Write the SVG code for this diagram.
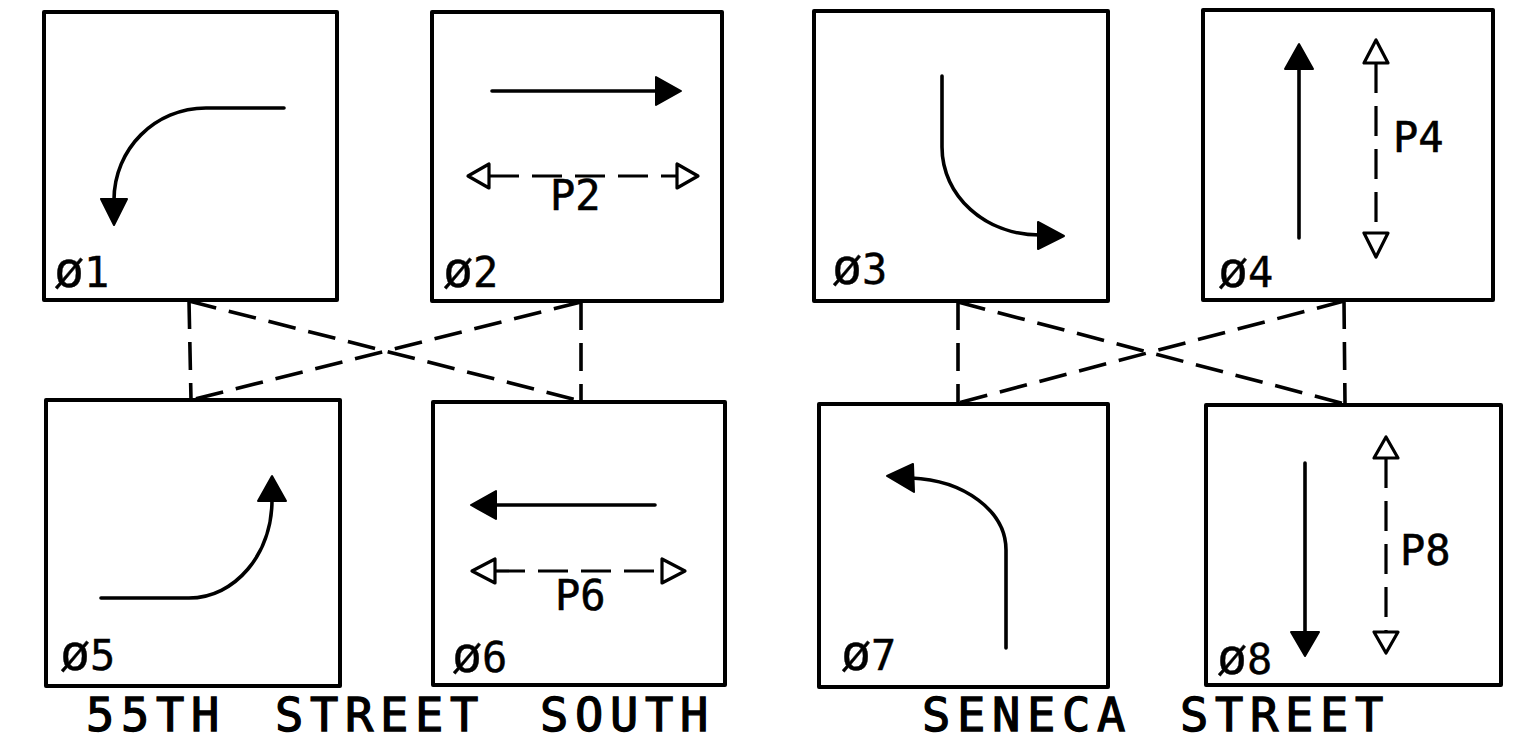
<svg xmlns="http://www.w3.org/2000/svg" width="1524" height="747" viewBox="0 0 1524 747">
<style>
.box{fill:#fff;stroke:#000;stroke-width:4;stroke-linejoin:round}
.mv{fill:none;stroke:#000;stroke-width:3.6;stroke-linecap:round}
.head{fill:#000;stroke:#000;stroke-width:2;stroke-linejoin:round}
.open{fill:#fff;stroke:#000;stroke-width:3.2;stroke-linejoin:round}
.ped{fill:none;stroke:#000;stroke-width:3.2;stroke-dasharray:30 13}
.con{fill:none;stroke:#000;stroke-width:3.6;stroke-dasharray:28 13}
.ph{font-family:"DejaVu Sans Mono","Liberation Mono",monospace;font-size:42px;fill:#000;stroke:#000;stroke-width:0.4}
.ph .o{font-size:50px}
.pl{font-family:"DejaVu Sans Mono","Liberation Mono",monospace;font-size:42px;fill:#000;stroke:#000;stroke-width:0.6}
.street{font-family:"DejaVu Sans Mono","Liberation Mono",monospace;font-size:47px;letter-spacing:6.7px;fill:#000;stroke:#000;stroke-width:1.3}
</style>
<rect width="1524" height="747" fill="#fff"/>

<g id="connectors">
<line class="con" x1="189" y1="301" x2="191" y2="400"/>
<line class="con" x1="581" y1="302" x2="581" y2="401"/>
<line class="con" x1="189" y1="301" x2="581" y2="401"/>
<line class="con" x1="581" y1="302" x2="191" y2="400"/>
<line class="con" x1="958" y1="302" x2="958" y2="403"/>
<line class="con" x1="1344" y1="301" x2="1345" y2="404"/>
<line class="con" x1="958" y1="302" x2="1345" y2="404"/>
<line class="con" x1="1344" y1="301" x2="958" y2="403"/>
</g>

<g id="phase1">
<rect class="box" x="44" y="12" width="293" height="288"/>
<path class="mv" d="M284,108 H206 C155,108 114,149 114,200"/>
<polygon class="head" points="101,199 127,199 114,225"/>
<text class="ph" x="54" y="287"><tspan class="o">ø</tspan>1</text>
</g>

<g id="phase2">
<rect class="box" x="432" y="12" width="290" height="289"/>
<line class="mv" x1="492" y1="91" x2="658" y2="91"/>
<polygon class="head" points="656,77 656,105 681,91"/>
<line class="ped" x1="489" y1="176" x2="677" y2="176"/>
<polygon class="open" points="489,164 489,188 468,176"/>
<polygon class="open" points="677,164 677,188 698,176"/>
<text class="pl" x="550" y="210">P2</text>
<text class="ph" x="443" y="287"><tspan class="o">ø</tspan>2</text>
</g>

<g id="phase3">
<rect class="box" x="814" y="11" width="294" height="290"/>
<path class="mv" d="M942,76 V147 C942,196 985,235 1040,235"/>
<polygon class="head" points="1038,222 1038,249 1064,236"/>
<text class="ph" x="832" y="284"><tspan class="o">ø</tspan>3</text>
</g>

<g id="phase4">
<rect class="box" x="1203" y="10" width="290" height="290"/>
<line class="mv" x1="1299" y1="238" x2="1299" y2="68"/>
<polygon class="head" points="1285,69 1313,69 1299,44"/>
<line class="ped" x1="1376" y1="63" x2="1376" y2="233"/>
<polygon class="open" points="1364,63 1388,63 1376,40"/>
<polygon class="open" points="1364,233 1388,233 1376,257"/>
<text class="pl" x="1393" y="152">P4</text>
<text class="ph" x="1218" y="287"><tspan class="o">ø</tspan>4</text>
</g>

<g id="phase5">
<rect class="box" x="46" y="400" width="294" height="286"/>
<path class="mv" d="M101,598 H189 C235,598 272,554 272,500"/>
<polygon class="head" points="258,501 286,501 272,476"/>
<text class="ph" x="60" y="670"><tspan class="o">ø</tspan>5</text>
</g>

<g id="phase6">
<rect class="box" x="433" y="402" width="292" height="283"/>
<line class="mv" x1="494" y1="505" x2="655" y2="505"/>
<polygon class="head" points="496,491 496,519 471,505"/>
<line class="ped" x1="495" y1="571" x2="662" y2="571"/>
<polygon class="open" points="495,559 495,583 472,571"/>
<polygon class="open" points="662,559 662,583 685,571"/>
<text class="pl" x="555" y="610">P6</text>
<text class="ph" x="452" y="672"><tspan class="o">ø</tspan>6</text>
</g>

<g id="phase7">
<rect class="box" x="819" y="404" width="289" height="283"/>
<path class="mv" d="M1006,648 V550 C1006,511 964,480 911,478"/>
<polygon class="head" points="913,464 914,492 887,476"/>
<text class="ph" x="841" y="670"><tspan class="o">ø</tspan>7</text>
</g>

<g id="phase8">
<rect class="box" x="1206" y="405" width="295" height="280"/>
<line class="mv" x1="1305" y1="463" x2="1305" y2="634"/>
<polygon class="head" points="1291,632 1319,632 1305,656"/>
<line class="ped" x1="1386" y1="458" x2="1386" y2="632"/>
<polygon class="open" points="1374,458 1398,458 1386,437"/>
<polygon class="open" points="1374,632 1398,632 1386,653"/>
<text class="pl" x="1400" y="565">P8</text>
<text class="ph" x="1217" y="674"><tspan class="o">ø</tspan>8</text>
</g>

<g id="titles">
<text class="street" y="731"><tspan x="86">55TH</tspan><tspan x="275">STREET</tspan><tspan x="540">SOUTH</tspan></text>
<text class="street" y="731"><tspan x="922">SENECA</tspan><tspan x="1180">STREET</tspan></text>
</g>
</svg>
